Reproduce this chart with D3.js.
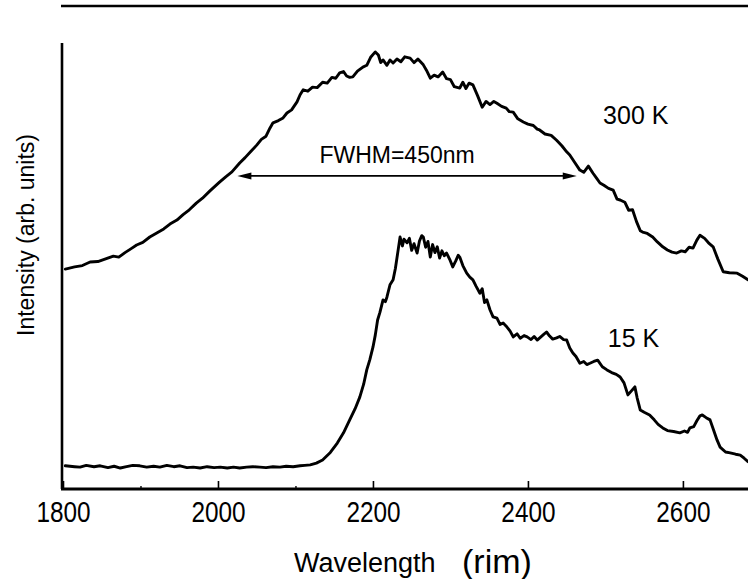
<!DOCTYPE html>
<html>
<head>
<meta charset="utf-8">
<script src="https://cdn.jsdelivr.net/npm/d3@7"></script>
<style>
  html, body { margin: 0; padding: 0; background: #fff; }
  svg { display: block; }
  text { fill: #000; }
</style>
</head>
<body>
<svg id="chart" width="748" height="579"></svg>
<script>
// ---------- data (wavelength nm, intensity arb. units) ----------
const wl300 = [1803,1815,1825,1835,1845,1855,1865,1872,1880,1888,1895,1903,1912,1921,1930,1938,1947,1955,1963,1972,1980,1990,2002,2010,2018,2028,2035,2042,2050,2056,2062,2067,2071,2078,2084,2089,2095,2102,2106,2110,2116,2122,2128,2135,2141,2147,2152,2157,2162,2166,2170,2174,2180,2187,2192,2197,2203,2207,2210,2213,2218,2222,2226,2231,2236,2241,2248,2253,2258,2265,2269,2274,2279,2284,2290,2295,2300,2305,2312,2316,2320,2324,2329,2335,2341,2346,2351,2356,2360,2366,2372,2376,2381,2387,2394,2400,2407,2412,2415,2422,2430,2437,2444,2450,2454,2460,2467,2472,2478,2484,2489,2493,2498,2504,2510,2515,2519,2525,2530,2535,2540,2545,2548,2554,2561,2567,2574,2580,2586,2592,2598,2603,2608,2613,2618,2622,2628,2633,2639,2645,2652,2660,2670,2677,2684];
const int300 = [49.3,49.8,50.1,50.9,51.0,51.6,52.2,52.0,53.0,53.9,54.7,55.3,56.5,57.4,58.3,59.4,60.3,61.5,62.6,64.1,65.2,66.9,68.8,70.0,71.1,73.1,74.3,75.6,77.1,78.4,79.1,80.9,82.1,82.6,83.2,84.3,85.0,86.8,88.4,89.5,89.2,90.1,90.0,91.2,91.0,92.3,92.1,93.3,93.6,92.6,92.3,92.4,93.7,94.6,95.0,96.8,98.0,97.3,95.6,96.2,95.0,96.2,95.5,96.4,95.8,96.9,96.6,95.6,96.4,95.1,93.9,92.1,92.8,92.4,93.5,92.0,91.8,90.2,89.9,91.2,89.8,91.0,90.6,88.2,85.6,86.9,86.2,86.9,86.5,85.8,85.4,84.6,84.5,83.0,82.3,81.8,81.5,80.7,80.5,79.6,79.3,78.2,76.9,75.6,74.9,73.3,71.5,71.0,72.4,70.8,69.6,68.6,68.1,67.4,67.0,65.0,64.8,64.3,62.5,62.6,60.0,57.9,57.6,57.3,56.5,55.4,54.3,53.6,53.1,52.9,53.4,53.2,54.2,54.0,55.8,56.9,56.2,55.2,54.3,51.6,48.7,48.5,48.4,47.7,46.9];

const wl15 = [1803,1815,1822,1830,1840,1848,1858,1866,1874,1882,1890,1899,1908,1917,1925,1934,1943,1951,1960,1968,1977,1986,1995,2003,2012,2020,2028,2037,2045,2054,2062,2071,2080,2088,2097,2106,2112,2119,2127,2135,2145,2154,2162,2170,2177,2183,2188,2192,2196,2200,2203,2206,2209,2213,2216,2218,2222,2226,2229,2232,2235,2238,2240,2244,2247,2250,2253,2257,2260,2263,2265,2268,2271,2274,2277,2280,2283,2286,2289,2292,2295,2299,2303,2307,2310,2312,2316,2321,2325,2329,2333,2338,2341,2344,2347,2351,2355,2360,2364,2368,2372,2377,2381,2386,2390,2395,2399,2404,2408,2412,2416,2420,2424,2428,2432,2437,2441,2446,2450,2454,2458,2462,2467,2472,2476,2480,2485,2490,2496,2502,2508,2514,2519,2524,2529,2533,2538,2541,2545,2550,2557,2563,2568,2574,2580,2588,2596,2602,2606,2609,2614,2618,2622,2625,2630,2635,2640,2644,2648,2655,2661,2668,2674,2679,2684];
const int15 = [5.2,5.0,4.9,5.3,5.0,5.2,4.8,5.1,4.7,5.0,5.3,5.2,4.9,5.1,4.9,5.3,5.0,5.2,4.8,4.9,4.7,5.0,4.8,4.9,4.7,4.9,4.7,4.9,5.0,4.9,4.8,5.0,4.9,5.1,5.0,5.2,5.3,5.4,5.8,6.5,8.2,10.3,12.6,15.5,18.0,20.6,23.5,26.7,29.0,31.8,34.5,37.9,39.6,42.4,42.0,43.0,45.8,46.9,49.5,53.0,56.5,54.5,56.0,55.2,56.2,53.5,55.0,52.9,55.6,56.8,56.5,54.2,55.5,52.0,54.8,53.0,54.3,51.8,53.4,52.3,52.9,51.5,49.8,51.2,52.4,52.0,50.1,48.4,47.5,46.9,45.5,43.9,44.9,41.8,42.4,40.2,38.6,38.3,36.9,37.2,36.5,35.4,34.1,34.8,33.8,34.4,34.1,33.5,34.2,33.4,34.0,34.6,35.2,34.3,33.6,33.9,34.2,33.5,33.4,31.6,30.5,29.7,28.2,28.6,27.9,28.2,28.6,28.9,27.4,26.7,26.1,25.7,25.1,23.8,21.1,21.9,22.9,20.4,17.7,17.2,16.6,15.5,14.5,13.7,13.1,12.9,12.6,13.0,12.7,13.7,14.0,15.3,16.4,16.6,16.0,15.5,13.0,11.0,9.4,8.3,8.1,7.8,7.6,6.9,6.1];

const majorTicks = [1800, 2000, 2200, 2400, 2600];
const minorTicks = [1900, 2100];
const fwhmRange = [2025, 2463];
const fwhmLevel = 70.2;
const fwhmLabel = "FWHM=450nm";
const seriesLabels = [
  { text: "300 K", wl: 2497, val: 81.9 },
  { text: "15 K", wl: 2503, val: 31.8 }
];
const xTitle = "Wavelength";
const xUnit = "(rim)";
const yTitle = "Intensity (arb. units)";

// ---------- layout ----------
const svg = d3.select("#chart");
const plotLeft = 63, plotRight = 748, plotTop = 43, plotBottom = 489;

const x = d3.scaleLinear().domain([1800, 2684]).range([plotLeft, plotRight]);
const y = d3.scaleLinear().domain([0, 100]).range([plotBottom, plotTop]);

// top rule
svg.append("line")
  .attr("x1", 61).attr("x2", 748).attr("y1", 6).attr("y2", 6)
  .attr("stroke", "#000").attr("stroke-width", 2.6);

// y axis line
svg.append("line")
  .attr("x1", 62).attr("x2", 62).attr("y1", plotTop).attr("y2", plotBottom)
  .attr("stroke", "#000").attr("stroke-width", 2.6);

// x axis (major)
const xAxis = d3.axisBottom(x)
  .tickValues(majorTicks)
  .tickSizeInner(-8).tickSizeOuter(0).tickPadding(12)
  .tickFormat(d3.format("d"));
const gx = svg.append("g").attr("transform", `translate(0,${plotBottom})`).call(xAxis);
gx.select(".domain").attr("stroke-width", 2.8).attr("d", `M61,0H748`);
gx.selectAll(".tick line").attr("stroke-width", 1.6);
gx.selectAll(".tick text")
  .style("font-family", "'Liberation Sans', Arial, sans-serif")
  .style("font-size", "29px")
  .attr("transform", "scale(0.84,1)");

// minor ticks
const xMinor = d3.axisBottom(x).tickValues(minorTicks).tickSizeInner(-3).tickSizeOuter(0).tickFormat("");
const gm = svg.append("g").attr("transform", `translate(0,${plotBottom})`).call(xMinor);
gm.select(".domain").remove();
gm.selectAll(".tick line").attr("stroke-width", 1.4);

// curves
const line = d3.line().x(d => x(d[0])).y(d => y(d[1]));
const s300 = wl300.map((w, i) => [w, int300[i]]);
const s15 = wl15.map((w, i) => [w, int15[i]]);
[s300, s15].forEach(s => {
  svg.append("path").datum(s)
    .attr("d", line)
    .attr("fill", "none").attr("stroke", "#000")
    .attr("stroke-width", 2.9).attr("stroke-linejoin", "round").attr("stroke-linecap", "round");
});

// FWHM arrow
const ay = y(fwhmLevel), ax1 = x(fwhmRange[0]), ax2 = x(fwhmRange[1]);
svg.append("line").attr("x1", ax1 + 6).attr("x2", ax2 - 6).attr("y1", ay).attr("y2", ay)
  .attr("stroke", "#000").attr("stroke-width", 1.6);
svg.append("path").attr("d", `M${ax1},${ay}L${ax1 + 14},${ay - 3.5}L${ax1 + 14},${ay + 3.5}Z`).attr("fill", "#000");
svg.append("path").attr("d", `M${ax2},${ay}L${ax2 - 14},${ay - 3.5}L${ax2 - 14},${ay + 3.5}Z`).attr("fill", "#000");
svg.append("text")
  .attr("x", (ax1 + ax2) / 2 - 10).attr("y", ay - 13)
  .attr("text-anchor", "middle")
  .style("font-family", "'Liberation Sans', Arial, sans-serif").style("font-size", "23px")
  .text(fwhmLabel);

// series labels
seriesLabels.forEach(l => {
  svg.append("text").attr("x", x(l.wl)).attr("y", y(l.val))
    .style("font-family", "'Liberation Sans', Arial, sans-serif").style("font-size", "25px")
    .text(l.text);
});

// axis titles
svg.append("text").attr("x", 294).attr("y", 572)
  .style("font-family", "'Liberation Sans', Arial, sans-serif").style("font-size", "27px")
  .text(xTitle);
svg.append("text").attr("x", 462).attr("y", 573)
  .style("font-family", "'Liberation Sans', Arial, sans-serif").style("font-size", "34px")
  .text(xUnit);
svg.append("text")
  .attr("transform", "translate(34,235) rotate(-90)")
  .attr("text-anchor", "middle")
  .style("font-family", "'Liberation Sans', Arial, sans-serif").style("font-size", "23px")
  .text(yTitle);
</script>
</body>
</html>
